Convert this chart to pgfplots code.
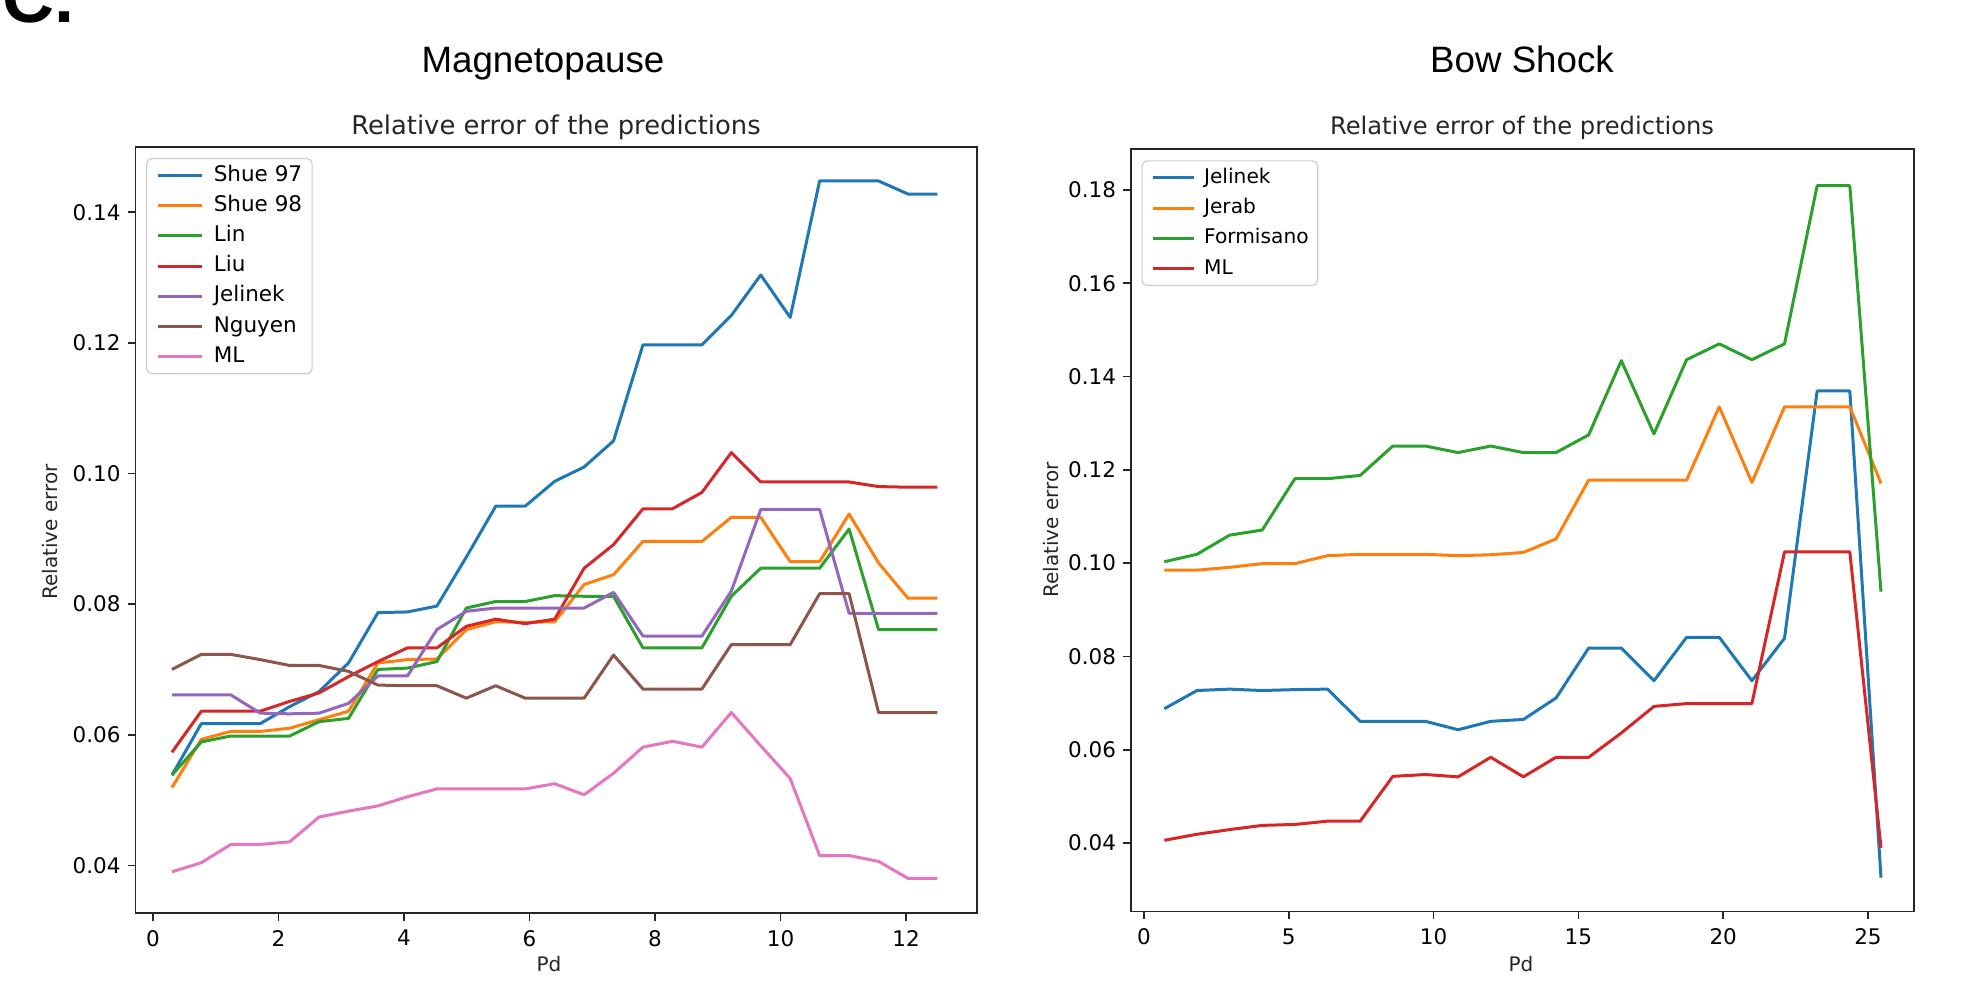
\documentclass[border=0pt]{standalone}
\usepackage{pgfplots}
\pgfplotsset{compat=1.18}
\usepackage{pgfplotstable}
\usepackage{fontspec}
\setmainfont{DejaVu Sans}
\newfontfamily\arialfont{Liberation Sans}

\definecolor{C0}{HTML}{1F77B4}
\definecolor{C1}{HTML}{FF7F0E}
\definecolor{C2}{HTML}{2CA02C}
\definecolor{C3}{HTML}{D62728}
\definecolor{C4}{HTML}{9467BD}
\definecolor{C5}{HTML}{8C564B}
\definecolor{C6}{HTML}{E377C2}

\pgfplotstableread{
x      sA     sB     lin    liu    jel    ngu    ml
0.300  0.0538 0.0519 0.0538 0.0573 0.0661 0.0700 0.0390
0.769  0.0617 0.0593 0.0589 0.0636 0.0661 0.0723 0.0404
1.238  0.0617 0.0605 0.0598 0.0636 0.0661 0.0723 0.0432
1.708  0.0617 0.0605 0.0598 0.0636 0.0633 0.0715 0.0432
2.177  0.0643 0.0610 0.0598 0.0651 0.0632 0.0706 0.0436
2.646  0.0666 0.0623 0.0620 0.0664 0.0633 0.0706 0.0474
3.115  0.0710 0.0636 0.0625 0.0689 0.0648 0.0697 0.0483
3.584  0.0787 0.0710 0.0700 0.0712 0.0690 0.0676 0.0491
4.054  0.0788 0.0715 0.0702 0.0733 0.0690 0.0675 0.0505
4.523  0.0797 0.0716 0.0712 0.0733 0.0761 0.0675 0.0517
4.992  0.0872 0.0761 0.0794 0.0766 0.0789 0.0656 0.0517
5.461  0.0950 0.0773 0.0804 0.0777 0.0794 0.0675 0.0517
5.930  0.0950 0.0772 0.0804 0.0770 0.0794 0.0656 0.0517
6.400  0.0988 0.0773 0.0813 0.0777 0.0794 0.0656 0.0525
6.869  0.1010 0.0830 0.0812 0.0855 0.0794 0.0656 0.0508
7.338  0.1050 0.0845 0.0812 0.0891 0.0818 0.0722 0.0541
7.807  0.1197 0.0896 0.0733 0.0946 0.0751 0.0670 0.0581
8.276  0.1197 0.0896 0.0733 0.0946 0.0751 0.0670 0.0590
8.746  0.1197 0.0896 0.0733 0.0971 0.0751 0.0670 0.0581
9.215  0.1242 0.0933 0.0812 0.1032 0.0820 0.0738 0.0634
9.684  0.1304 0.0933 0.0855 0.0987 0.0945 0.0738 0.0583
10.153 0.1239 0.0865 0.0855 0.0987 0.0945 0.0738 0.0533
10.622 0.1448 0.0865 0.0855 0.0987 0.0945 0.0816 0.0415
11.092 0.1448 0.0938 0.0915 0.0987 0.0786 0.0816 0.0415
11.561 0.1448 0.0863 0.0761 0.0980 0.0786 0.0634 0.0406
12.030 0.1428 0.0809 0.0761 0.0979 0.0786 0.0634 0.0380
12.500 0.1428 0.0809 0.0761 0.0979 0.0786 0.0634 0.0380
}\mpdata

\pgfplotstableread{
x      jel    jer    form   ml
0.700  0.0688 0.0985 0.1003 0.0406
1.827  0.0727 0.0985 0.1019 0.0419
2.955  0.0730 0.0991 0.1060 0.0429
4.082  0.0727 0.0999 0.1071 0.0438
5.209  0.0729 0.0999 0.1181 0.0440
6.336  0.0730 0.1016 0.1181 0.0447
7.464  0.0661 0.1019 0.1188 0.0447
8.591  0.0661 0.1019 0.1251 0.0543
9.718  0.0661 0.1019 0.1251 0.0547
10.845 0.0643 0.1016 0.1237 0.0542
11.973 0.0661 0.1018 0.1251 0.0584
13.100 0.0665 0.1023 0.1237 0.0542
14.227 0.0711 0.1052 0.1237 0.0584
15.355 0.0818 0.1178 0.1275 0.0584
16.482 0.0818 0.1178 0.1434 0.0636
17.609 0.0748 0.1178 0.1277 0.0693
18.736 0.0841 0.1178 0.1436 0.0699
19.864 0.0841 0.1335 0.1470 0.0699
20.991 0.0748 0.1173 0.1436 0.0699
22.118 0.0839 0.1335 0.1470 0.1024
23.245 0.1369 0.1335 0.1809 0.1024
24.373 0.1369 0.1335 0.1809 0.1024
25.450 0.0326 0.1171 0.0939 0.0390
}\bsdata

\pgfplotsset{
  mpl/.style={
    scale only axis,
    no marks,
    axis line style={black!85, line width=0.8pt},
    tick style={black!85, line width=0.8pt},
    tick align=outside,
    major tick length=3.8pt,
    xtick pos=left, ytick pos=left,
    ticklabel style={font=\fontsize{10.75}{12}\selectfont},
    /pgf/number format/assume math mode=true,
    scaled ticks=false,
    yticklabel style={/pgf/number format/fixed, /pgf/number format/fixed zerofill, /pgf/number format/precision=2, anchor=east, inner sep=0pt, xshift=-3.45pt},
    xticklabel style={anchor=north, inner sep=0pt, yshift=-4.6pt},
    every axis plot/.append style={line width=1.5pt, line join=round},
    legend cell align=left,
    legend image code/.code={\draw[##1, line width=1.5pt] (0pt,0pt) -- (22pt,0pt);},
    legend style={at={(0,1)}, anchor=north west, xshift=5.25pt, yshift=-5.5pt,
      draw=black!20, fill=white, rounded corners=2.5pt, line width=0.6pt,
      font=\fontsize{10.75}{12}\selectfont, inner xsep=5pt, inner ysep=3.5pt,
      row sep=5.1pt, column sep=5.1pt,
      nodes={inner sep=0pt, text height=7.8pt, text depth=2.2pt}},
  }
}

\begin{document}
\begin{tikzpicture}
\useasboundingbox (0pt,0pt) rectangle (985.5pt,495.5pt);
\node[anchor=base west, inner sep=0pt, font={\arialfont\bfseries\fontsize{36pt}{36pt}\selectfont}] at (1pt,484.2pt) {C.};

\node[anchor=base, font={\arialfont\fontsize{18.35pt}{20pt}\selectfont}] at (271.5pt,459.4pt) {Magnetopause};
\node[anchor=base, font={\arialfont\fontsize{18.35pt}{20pt}\selectfont}] at (761pt,459.4pt) {Bow Shock};

\node[anchor=base, font=\fontsize{12.9pt}{14pt}\selectfont, text=black!85] at (278pt,428pt) {Relative error of the predictions};
\node[anchor=base, font=\fontsize{12.1pt}{14pt}\selectfont, text=black!85] at (761pt,428pt) {Relative error of the predictions};

\node[anchor=base, rotate=90, font=\fontsize{10pt}{12pt}\selectfont, text=black!85] at (28.8pt,229.5pt) {Relative error};
\node[anchor=base, rotate=90, font=\fontsize{10pt}{12pt}\selectfont, text=black!85] at (529pt,230.5pt) {Relative error};
\node[anchor=base, font=\fontsize{10pt}{12pt}\selectfont, text=black!85] at (274.5pt,9.7pt) {Pd};
\node[anchor=base, font=\fontsize{10pt}{12pt}\selectfont, text=black!85] at (760.5pt,9.7pt) {Pd};

\begin{axis}[mpl, at={(67.75pt,39pt)}, anchor=south west, width=420.75pt, height=383pt,
  xmin=-0.28, xmax=13.13, ymin=0.0327, ymax=0.1500,
  xtick={0,2,4,6,8,10,12}, ytick={0.04,0.06,0.08,0.10,0.12,0.14}]
\addplot[C0] table[x=x,y=sA]{\mpdata}; \addlegendentry{Shue 97}
\addplot[C1] table[x=x,y=sB]{\mpdata}; \addlegendentry{Shue 98}
\addplot[C2] table[x=x,y=lin]{\mpdata}; \addlegendentry{Lin}
\addplot[C3] table[x=x,y=liu]{\mpdata}; \addlegendentry{Liu}
\addplot[C4] table[x=x,y=jel]{\mpdata}; \addlegendentry{Jelinek}
\addplot[C5] table[x=x,y=ngu]{\mpdata}; \addlegendentry{Nguyen}
\addplot[C6] table[x=x,y=ml]{\mpdata}; \addlegendentry{ML}
\end{axis}

\begin{axis}[mpl, at={(565.5pt,39.65pt)}, anchor=south west, width=391.5pt, height=381.2pt,
  xmin=-0.45, xmax=26.59, ymin=0.0253, ymax=0.1887,
  xtick={0,5,10,15,20,25}, ytick={0.04,0.06,0.08,0.10,0.12,0.14,0.16,0.18},
  legend image code/.code={\draw[#1, line width=1.5pt] (0pt,0pt) -- (20.7pt,0pt);},
  legend style={font=\fontsize{10.1}{12}\selectfont, column sep=4.3pt, inner xsep=4.5pt}]
\addplot[C0] table[x=x,y=jel]{\bsdata}; \addlegendentry{Jelinek}
\addplot[C1] table[x=x,y=jer]{\bsdata}; \addlegendentry{Jerab}
\addplot[C2] table[x=x,y=form]{\bsdata}; \addlegendentry{Formisano}
\addplot[C3] table[x=x,y=ml]{\bsdata}; \addlegendentry{ML}
\end{axis}
\end{tikzpicture}
\end{document}
